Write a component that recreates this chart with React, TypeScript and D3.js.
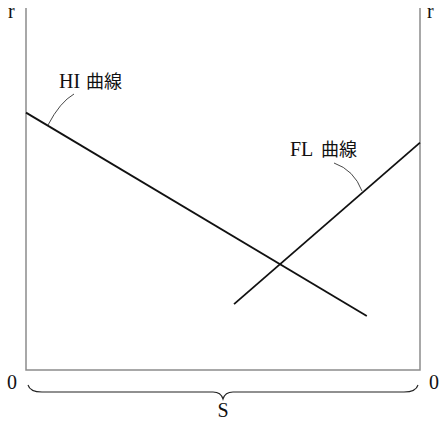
import React from "react";
import * as d3 from "d3";

const W = 440;
const H = 422;

// Data (in unit coordinates: x = share of S, y = r)
const hiLine: [number, number][] = [[0, 0.711], [0.865, 0.149]];
const flLine: [number, number][] = [[0.528, 0.182], [1.0, 0.628]];
const curveNames = ["HI", "FL"];
const curveWord = "曲線";
const axisLabels = { y: "r", x: "S", zero: "0" };

export default function App() {
  const x = d3.scaleLinear().domain([0, 1]).range([26, 420]);
  const y = d3.scaleLinear().domain([0, 1]).range([370, 8]);
  const line = d3.line<[number, number]>().x((d) => x(d[0])).y((d) => y(d[1]));

  const latin = "'Liberation Serif', 'Times New Roman', Times, serif";
  const cjk = "'Noto Sans CJK JP', sans-serif";
  const x0 = x(0), x1 = x(1), yb = y(0), yt = y(1);
  const xm = (x0 + x1) / 2;

  // brace under the x-axis
  const by0 = 385, by1 = 392, by2 = 399;
  const brace = `M${x0 + 2},${by0} Q${x0 + 4},${by1} ${x0 + 16},${by1} L${xm - 10},${by1} Q${xm - 2},${by1} ${xm},${by2} Q${xm + 2},${by1} ${xm + 10},${by1} L${x1 - 16},${by1} Q${x1 - 4},${by1} ${x1 - 2},${by0}`;

  return (
    <svg width={W} height={H} style={{ position: "absolute", left: 0, top: 0, background: "#fff" }}>
      <path d={`M${x0},${yt} L${x0},${yb} L${x1},${yb} L${x1},${yt}`} fill="none" stroke="#8c8c8c" strokeWidth={1.5} />
      <path d={line(hiLine) || ""} fill="none" stroke="#111" strokeWidth={1.8} />
      <path d={line(flLine) || ""} fill="none" stroke="#111" strokeWidth={1.8} />
      {/* leaders */}
      <path d="M48,125 Q60,102 74,94" fill="none" stroke="#333" strokeWidth={0.9} />
      <path d="M334,163 Q354,170 362,191" fill="none" stroke="#333" strokeWidth={0.9} />
      <g fontFamily={latin} fontSize={20} fill="#111">
        <text x={59} y={88}>
          {curveNames[0]}
          <tspan x={86} fontFamily={cjk} fontSize={18}>{curveWord}</tspan>
        </text>
        <text x={290} y={156}>
          {curveNames[1]}
          <tspan x={321} fontFamily={cjk} fontSize={18}>{curveWord}</tspan>
        </text>
        <text x={8} y={18}>{axisLabels.y}</text>
        <text x={427} y={18}>{axisLabels.y}</text>
        <text x={7} y={389}>{axisLabels.zero}</text>
        <text x={429} y={389}>{axisLabels.zero}</text>
        <text x={xm} y={417} textAnchor="middle">{axisLabels.x}</text>
      </g>
      <path d={brace} fill="none" stroke="#222" strokeWidth={1.1} />
    </svg>
  );
}
